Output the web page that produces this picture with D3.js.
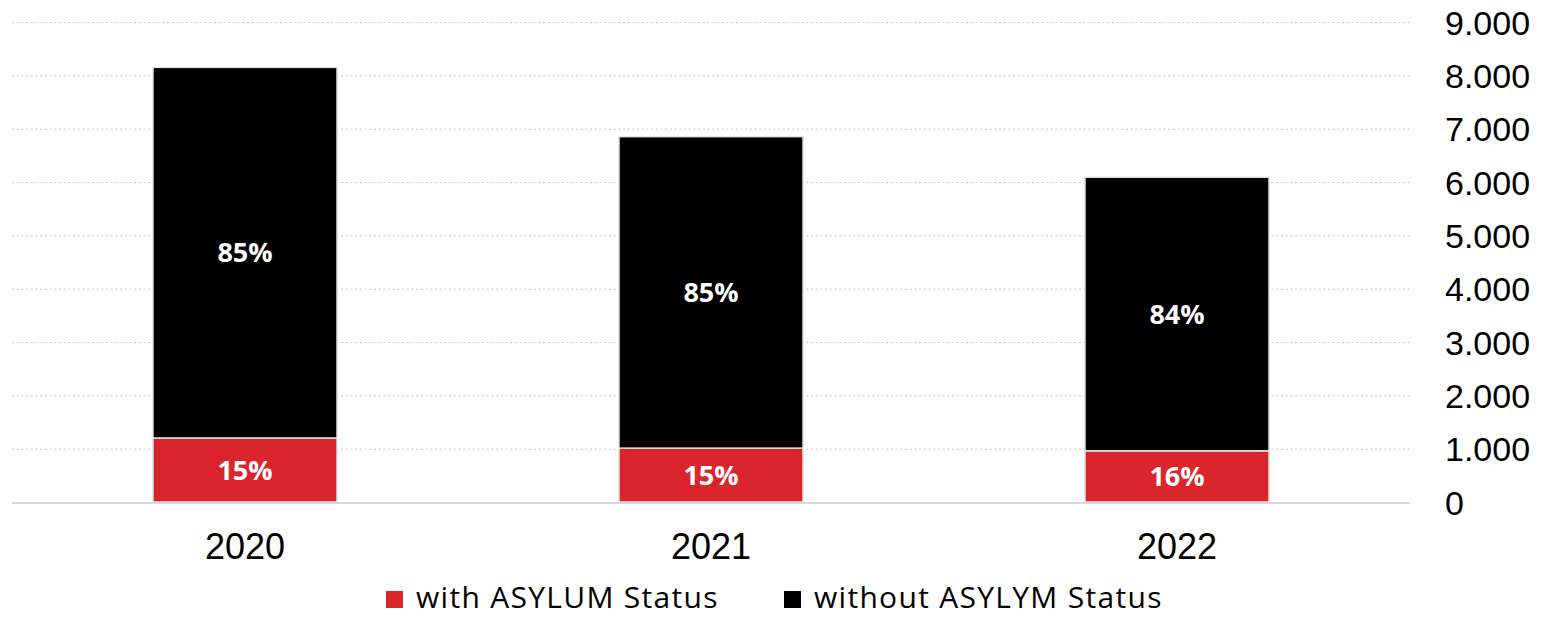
<!DOCTYPE html>
<html>
<head>
<meta charset="utf-8">
<script src="https://cdn.jsdelivr.net/npm/d3@7"></script>
<style>
  body { margin: 0; background: #fff; }
  svg { display: block; }
</style>
</head>
<body>
<div id="chart"></div>
<script>
/** Data. */
const YEARS = ["2020", "2021", "2022"];
const WITH_ASYLUM = [1200, 1010, 960];
const WITHOUT_ASYLUM = [6950, 5840, 5130];
const Y_TICKS = [0, 1000, 2000, 3000, 4000, 5000, 6000, 7000, 8000, 9000];
const SERIES_NAMES = ["with ASYLUM Status", "without ASYLYM Status"];
const COLORS = ["#d9252b", "#000000"];

const WIDTH = 1545;
const HEIGHT = 617;
const MARGIN = {left: 12, right: 135, top: 22, bottom: 115};
const VIEW_WIDTH = WIDTH - MARGIN.left - MARGIN.right;
const VIEW_HEIGHT = HEIGHT - MARGIN.top - MARGIN.bottom;

const rows = YEARS.map((year, i) => ({
    year,
    with: WITH_ASYLUM[i],
    without: WITHOUT_ASYLUM[i],
    total: WITH_ASYLUM[i] + WITHOUT_ASYLUM[i],
}));
const stack = d3.stack().keys(["with", "without"])(rows);

const x = d3.scaleBand()
    .domain(YEARS)
    .range([0, VIEW_WIDTH])
    .paddingInner(0.605)
    .paddingOuter(0.3025);
const y = d3.scaleLinear()
    .domain([0, 9000])
    .range([VIEW_HEIGHT, 0]);

const locale = d3.formatLocale({decimal: ",", thousands: ".", grouping: [3], currency: ["", ""]});
const fmt = locale.format(",");

const svg = d3.select("#chart").append("svg")
    .attr("width", WIDTH)
    .attr("height", HEIGHT);
const g = svg.append("g")
    .attr("transform", `translate(${MARGIN.left},${MARGIN.top})`);

// gridlines (dotted)
g.append("g")
    .selectAll("line")
    .data(Y_TICKS.filter(d => d > 0))
    .join("line")
    .attr("x1", 0)
    .attr("x2", VIEW_WIDTH)
    .attr("y1", d => y(d) + 0.5)
    .attr("y2", d => y(d) + 0.5)
    .attr("stroke", "#c4c4c4")
    .attr("stroke-width", 1)
    .attr("stroke-dasharray", "2,2.7");

// right axis labels
const yAxis = d3.axisRight(y)
    .tickValues(Y_TICKS)
    .tickFormat(fmt)
    .tickSize(0)
    .tickPadding(0);
g.append("g")
    .attr("transform", `translate(${VIEW_WIDTH + 35},0)`)
    .call(yAxis)
    .call(s => s.select(".domain").remove())
    .selectAll("text")
    .attr("font-family", "'Liberation Sans', Arial, sans-serif")
    .attr("font-size", 34)
    .attr("fill", "#000")
    .attr("dy", "0.36em");

// bars
const layers = g.append("g")
    .selectAll("g")
    .data(stack)
    .join("g")
    .attr("fill", (d, i) => COLORS[i]);
layers.selectAll("rect")
    .data(d => d)
    .join("rect")
    .attr("x", d => x(d.data.year))
    .attr("width", x.bandwidth())
    .attr("y", d => y(d[1]))
    .attr("height", d => y(d[0]) - y(d[1]))
    .attr("stroke", "#e6e6e6")
    .attr("stroke-width", 1.5);

// percentage labels
layers.selectAll("text")
    .data(d => d.map(v => ({v, key: d.key})))
    .join("text")
    .attr("x", d => x(d.v.data.year) + x.bandwidth() / 2)
    .attr("y", d => (y(d.v[0]) + y(d.v[1])) / 2)
    .attr("dy", "0.36em")
    .attr("text-anchor", "middle")
    .attr("fill", "#fff")
    .attr("font-family", "'Open Sans', sans-serif")
    .attr("font-weight", 700)
    .attr("font-size", 27)
    .text(d => Math.round(d.v.data[d.key] / d.v.data.total * 100) + "%");

// baseline
g.append("line")
    .attr("x1", 0)
    .attr("x2", VIEW_WIDTH)
    .attr("y1", y(0) + 1)
    .attr("y2", y(0) + 1)
    .attr("stroke", "#d9d9d9")
    .attr("stroke-width", 2);

// x axis labels
const xAxis = d3.axisBottom(x).tickSize(0).tickPadding(0);
g.append("g")
    .attr("transform", `translate(0,${VIEW_HEIGHT})`)
    .call(xAxis)
    .call(s => s.select(".domain").remove())
    .selectAll("text")
    .attr("font-family", "'Liberation Sans', Arial, sans-serif")
    .attr("font-size", 36)
    .attr("fill", "#000")
    .attr("dy", 0)
    .attr("y", 57);

// legend
const LEGEND_X = [386, 784];
const legend = svg.append("g")
    .selectAll("g")
    .data(SERIES_NAMES)
    .join("g")
    .attr("transform", (d, i) => `translate(${LEGEND_X[i]},591)`);
legend.append("rect")
    .attr("width", 17)
    .attr("height", 17)
    .attr("fill", (d, i) => COLORS[i]);
legend.append("text")
    .attr("x", 30)
    .attr("y", 17)
    .attr("font-family", "'Open Sans', sans-serif")
    .attr("font-size", 30)
    .attr("letter-spacing", 1.3)
    .attr("fill", "#000")
    .text(d => d);
</script>
</body>
</html>
